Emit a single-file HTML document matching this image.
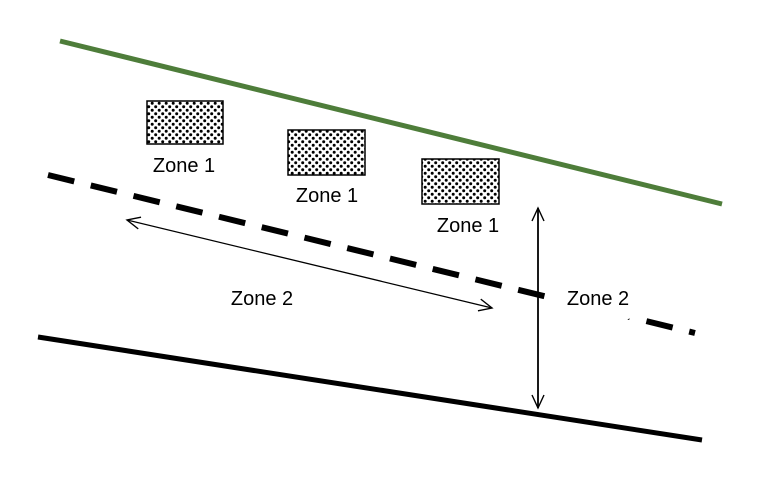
<!DOCTYPE html>
<html><head><style>body{margin:0;background:#fff}svg{display:block}</style></head>
<body>
<svg width="772" height="480" xmlns="http://www.w3.org/2000/svg">
<defs>
<pattern id="d" width="7" height="7" patternUnits="userSpaceOnUse">
<rect width="7" height="7" fill="#fff"/>
<circle cx="1.7" cy="1.7" r="1.5" fill="#000"/>
<circle cx="5.2" cy="5.2" r="1.5" fill="#000"/>
</pattern>
<marker id="a" markerWidth="16" markerHeight="16" refX="14" refY="8" orient="auto-start-reverse" markerUnits="userSpaceOnUse">
<path d="M1,2 L14,8 L1,14" fill="none" stroke="#000" stroke-width="1.4"/>
</marker>
</defs>
<line x1="60" y1="41" x2="722" y2="204" stroke="#4e7d3a" stroke-width="5"/>
<line x1="48" y1="175" x2="695" y2="333" stroke="#000" stroke-width="6" stroke-dasharray="27,17"/>
<line x1="38" y1="337" x2="702" y2="440" stroke="#000" stroke-width="5"/>
<rect x="548" y="282" width="90" height="40" rx="20" fill="#fff"/>
<line x1="127" y1="220" x2="492" y2="308" stroke="#000" stroke-width="1.3" marker-start="url(#a)" marker-end="url(#a)"/>
<line x1="538" y1="208" x2="538" y2="408" stroke="#000" stroke-width="1.8" marker-start="url(#a)" marker-end="url(#a)"/>
<rect x="147" y="101" width="76" height="43" fill="url(#d)" stroke="#000" stroke-width="1.5"/>
<rect x="288" y="130" width="77" height="45" fill="url(#d)" stroke="#000" stroke-width="1.5"/>
<rect x="422" y="159" width="77" height="45" fill="url(#d)" stroke="#000" stroke-width="1.5"/>
<g font-family="Liberation Sans, sans-serif" font-size="20" fill="#000" text-anchor="middle">
<text x="184" y="172">Zone 1</text>
<text x="327" y="202">Zone 1</text>
<text x="468" y="232">Zone 1</text>
<text x="262" y="305">Zone 2</text>
<text x="598" y="305">Zone 2</text>
</g>
</svg>
</body></html>
